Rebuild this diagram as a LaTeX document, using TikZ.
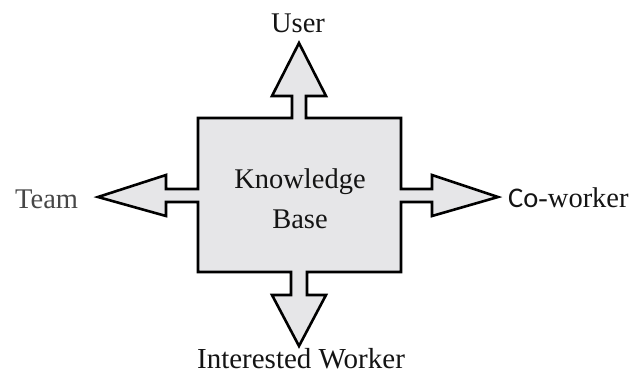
\documentclass[tikz,border=0pt]{standalone}
\usepackage{fontspec}
\setmainfont{Liberation Serif}
\newfontfamily\cofont{Carlito}
\begin{document}
\begin{tikzpicture}[x=1pt,y=-1pt,
  outline/.style={draw=black,line width=2.6pt,line join=miter,fill=kbfill},
  lbl/.style={font=\fontsize{28.5}{34}\selectfont,inner sep=0pt,text=black!92},
  dimlbl/.style={lbl,text=black!72}]
\definecolor{kbfill}{HTML}{E6E6E8}
\useasboundingbox (0,0) rectangle (634,375);
% knowledge base box with its four outward arrows, one outline
\draw[outline]
  (198,118) -- (292,118) -- (292,96) -- (272,96) -- (299,43) -- (326,96)
  -- (306,96) -- (306,118) -- (401,118) -- (401,189) -- (432,189)
  -- (432,175) -- (498,197) -- (432,216) -- (432,202) -- (401,202)
  -- (401,272) -- (307,272) -- (307,295) -- (326,295) -- (299,346)
  -- (272,295) -- (291,295) -- (291,272) -- (198,272) -- (198,202)
  -- (166,202) -- (166,216) -- (98,197) -- (166,175) -- (166,189)
  -- (198,189) -- cycle;
\node[lbl,anchor=base] (kb1) at (300,188) {Knowledge};
\node[lbl,anchor=base] (kb2) at (300,228) {Base};
\node[lbl,anchor=base] (user) at (298,32) {User};
\node[dimlbl,anchor=base west] (team) at (15,208) {Team};
\node[lbl,anchor=base west] (cow) at (508,207) {{\cofont Co}-worker};
\node[lbl,font=\fontsize{29}{35}\selectfont,anchor=base] (iw) at (301,368.5) {Interested Worker};
\end{tikzpicture}
\end{document}
